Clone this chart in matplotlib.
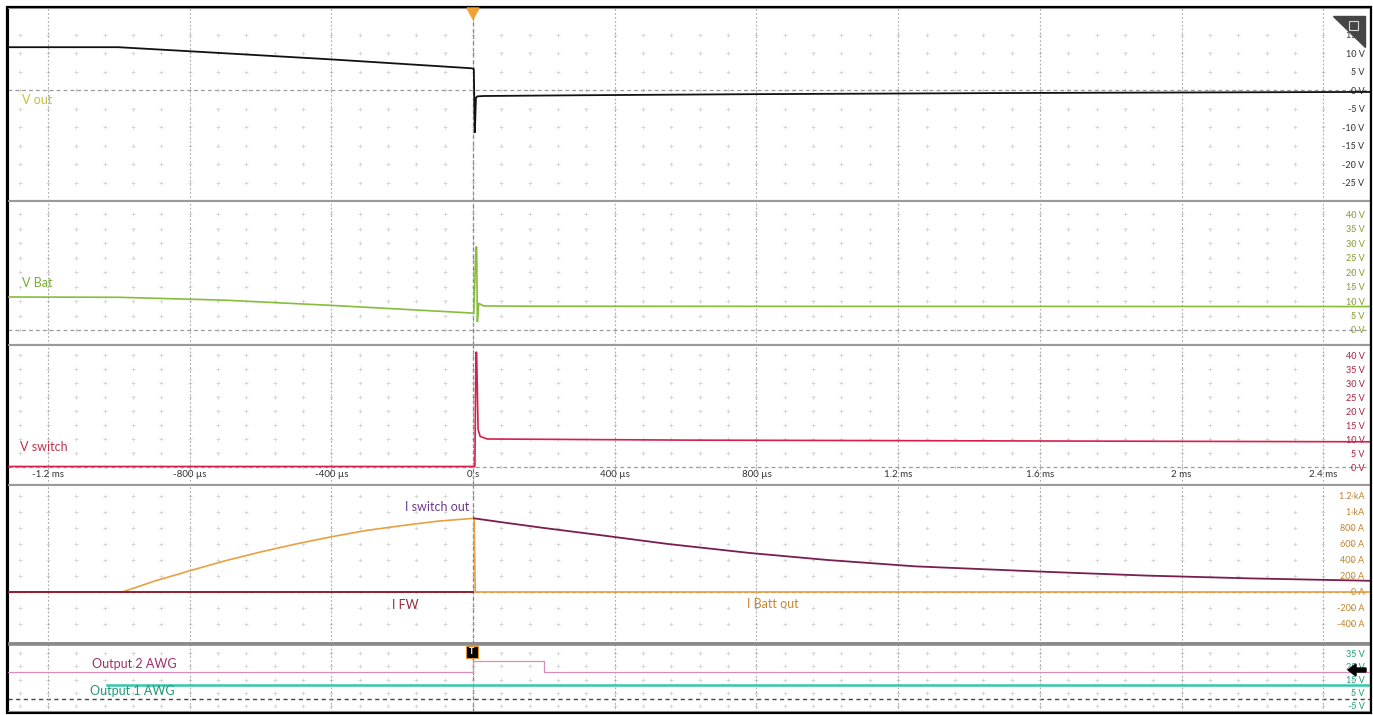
import numpy as np
import matplotlib.pyplot as plt
from matplotlib.patches import Polygon, Rectangle

plt.rcParams['font.family'] = ['Lato', 'DejaVu Sans']

W, H = 1373, 715

# time axis, in microseconds
x_ticks = [-1200, -800, -400, 0, 400, 800, 1200, 1600, 2000, 2400]
x_labels = ['-1.2 ms', '-800 µs', '-400 µs', '0 s', '400 µs', '800 µs',
            '1.2 ms', '1.6 ms', '2 ms', '2.4 ms']
x_min, x_max = -1313, 2532

# V out (black)
vout_t = [-1313, -1002, -800, -400, -5, 2, 5, 8, 12, 30, 300, 800, 1500, 2532]
vout_v = [11.7, 11.7, 10.6, 8.4, 6.0, 5.8, -11.3, -2.0, -1.6, -1.5, -1.3, -1.0, -0.7, -0.4]

# V Bat (green)
vbat_t = [-1313, -1000, -700, -400, -10, 2, 8, 10, 12, 16, 30, 200, 2532]
vbat_v = [11.4, 11.3, 10.3, 8.5, 5.9, 5.8, 28.7, 28.7, 2.9, 9.2, 8.3, 8.2, 8.1]

# V switch (red)
vsw_t = [-1313, 5, 8, 10, 14, 20, 40, 600, 2532]
vsw_v = [0.3, 0.3, 41.0, 41.0, 13.5, 11.0, 10.1, 9.7, 9.1]

# currents
ibatt_t = [-1313, -990, -900, -800, -700, -600, -500, -400, -300, -200, -100, 0, 3, 6, 2532]
ibatt_a = [0, 0, 135, 265, 390, 500, 600, 690, 770, 830, 885, 920, 920, 0, 0]
ifw_t = [-1313, 0]
ifw_a = [0, 0]
isw_t = [3, 100, 200, 360, 550, 782, 1000, 1250, 1629, 1900, 2193, 2532]
isw_a = [920, 860, 800, 710, 600, 487, 400, 320, 250, 205, 170, 140]

# AWG outputs
awg2_t = [-1313, 0, 0, 200, 200, 2532]
awg2_v = [20.5, 20.5, 29.5, 29.5, 20.5, 20.5]
awg1_t = [-1033, 2532]
awg1_v = [10.7, 10.7]

panels = [
    # y0, y1 (pixels), ylim, ticks, labels, tick colour
    (8, 201, (-29.9, 22.3), [15, 10, 5, 0, -5, -10, -15, -20, -25],
     ['15 V', '10 V', '5 V', '0 V', '-5 V', '-10 V', '-15 V', '-20 V', '-25 V'], '#333333'),
    (201, 345, (-5.2, 44.6), [40, 35, 30, 25, 20, 15, 10, 5, 0],
     ['40 V', '35 V', '30 V', '25 V', '20 V', '15 V', '10 V', '5 V', '0 V'], '#8a9a2a'),
    (345, 485, (-6.3, 43.6), [40, 35, 30, 25, 20, 15, 10, 5, 0],
     ['40 V', '35 V', '30 V', '25 V', '20 V', '15 V', '10 V', '5 V', '0 V'], '#a8243f'),
    (485, 644, (-650, 1337), [1200, 1000, 800, 600, 400, 200, 0, -200, -400],
     ['1.2 kA', '1 kA', '800 A', '600 A', '400 A', '200 A', '0 A', '-200 A', '-400 A'], '#c0842a'),
    (644, 712, (-9.8, 42.1), [35, 25, 15, 5, -5],
     ['35 V', '25 V', '15 V', '5 V', '-5 V'], '#1f9e7e'),
]

fig = plt.figure(figsize=(W / 100, H / 100), dpi=100)
axes = []
minor_x = np.arange(-1280, 2533, 80)
for y0, y1, ylim, yt, yl, tc in panels:
    ax = fig.add_axes([8 / W, 1 - y1 / H, (1370 - 8) / W, (y1 - y0) / H])
    ax.set_xlim(x_min, x_max)
    ax.set_ylim(*ylim)
    ax.set_xticks(x_ticks)
    ax.set_yticks(yt)
    ax.set_yticklabels(yl)
    ax.yaxis.tick_right()
    ax.tick_params(axis='y', length=0, pad=-4, labelsize=6.5, labelcolor=tc)
    for lab in ax.get_yticklabels():
        lab.set_horizontalalignment('right')
    ax.tick_params(axis='x', length=0, labelbottom=False)
    ax.grid(axis='x', color='#a8a8a8', linestyle=(0, (1.5, 2)), lw=0.8, zorder=0)
    gx, gy = np.meshgrid(minor_x, yt)
    ax.scatter(gx.ravel(), gy.ravel(), marker='+', s=6, color='#d2d2d2', lw=0.6, zorder=0)
    for s in ['top', 'bottom']:
        ax.spines[s].set_color('#9a9a9a')
        ax.spines[s].set_linewidth(1.5)
    for s in ['left', 'right']:
        ax.spines[s].set_color('black')
    axes.append(ax)

ax1, ax2, ax3, ax4, ax5 = axes
ax5.spines['top'].set_linewidth(2.6)
ax5.spines['top'].set_color('#8a8a8a')
ax4.spines['bottom'].set_linewidth(2.6)
ax4.spines['bottom'].set_color('#8a8a8a')

ax3.set_xticklabels(x_labels)
ax3.tick_params(axis='x', labelbottom=True, pad=-11, labelsize=7, labelcolor='#333333')

for ax in axes:
    ax.axvline(0, color='#777777', ls=(0, (3, 2)), lw=0.9, zorder=1)
for ax in [ax1, ax2, ax3, ax4]:
    ax.axhline(0, color='#9a9a9a', ls=(0, (3, 2.5)), lw=0.9, zorder=1)
ax5.axhline(0, color='#444444', ls=(0, (3, 2.5)), lw=1.0, zorder=1)

ax1.plot(vout_t, vout_v, color='#111111', lw=1.3, zorder=3)
ax2.plot(vbat_t, vbat_v, color='#86bd3a', lw=1.2, zorder=3)
ax3.plot(vsw_t, vsw_v, color='#d81e4a', lw=1.2, zorder=3)
ax4.plot(ibatt_t, ibatt_a, color='#e8a040', lw=1.2, zorder=3)
ax4.plot(ifw_t, ifw_a, color='#8e2030', lw=1.4, zorder=4)
ax4.plot(isw_t, isw_a, color='#7a1d50', lw=1.3, zorder=4)
ax5.plot(awg2_t, awg2_v, color='#d98cbc', lw=0.9, zorder=3)
ax5.plot(awg1_t, awg1_v, color='#33c9a8', lw=1.8, zorder=3)


def fx(x):
    return x / W


def fy(y):
    return 1 - y / H


labels = [
    ('V out', 22, 100, '#c9c03a'),
    ('V Bat', 22, 283, '#78b030'),
    ('V switch', 20, 447, '#c0304a'),
    ('I switch out', 405, 507, '#6b3a8c'),
    ('I FW', 392, 605, '#9a2a3a'),
    ('I Batt out', 747, 604, '#c8872e'),
    ('Output 2 AWG', 92, 664, '#a0306a'),
    ('Output 1 AWG', 90, 691, '#1f9a78'),
]
for txt, x, y, c in labels:
    fig.text(fx(x), fy(y), txt, color=c, fontsize=9, va='center', ha='left', zorder=10)

# outer frame
fig.patches.append(Rectangle((fx(7), fy(713)), (1371 - 7) / W, (713 - 7) / H, fill=False,
                             ec='black', lw=1.6, transform=fig.transFigure, zorder=20))
# trigger marker at top
fig.patches.append(Polygon([(fx(467), fy(8)), (fx(479), fy(8)), (fx(473), fy(19))],
                           closed=True, color='#f5a030', transform=fig.transFigure, zorder=21))
# corner icon
fig.patches.append(Polygon([(fx(1333), fy(16)), (fx(1365), fy(16)), (fx(1365), fy(47))],
                           closed=True, color='#454545', transform=fig.transFigure, zorder=21))
fig.patches.append(Rectangle((fx(1349), fy(30)), 9 / W, 9 / H, fill=False, ec='#d8d8d8', lw=0.8,
                             transform=fig.transFigure, zorder=22))
# T marker
fig.patches.append(Rectangle((fx(466), fy(658)), 12 / W, 12 / H, fc='black', ec='#e89030',
                             lw=0.8, transform=fig.transFigure, zorder=21))
fig.text(fx(472), fy(652), 'T', color='white', fontsize=6.5, fontweight='bold',
         ha='center', va='center', zorder=22)
# level arrow on the right
arrow = [(1348, 670), (1356, 664), (1356, 668), (1366, 668), (1366, 672), (1356, 672), (1356, 676)]
fig.patches.append(Polygon([(fx(a), fy(b)) for a, b in arrow], closed=True, color='black',
                           transform=fig.transFigure, zorder=21))

fig.savefig('out.png', dpi=100)
